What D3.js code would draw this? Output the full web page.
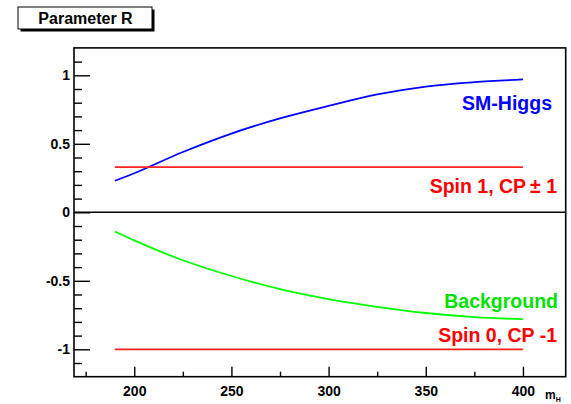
<!DOCTYPE html>
<html>
<head>
<meta charset="utf-8">
<script src="https://cdn.jsdelivr.net/npm/d3@7"></script>
<style>
  html, body { margin: 0; padding: 0; background: #fff; }
  svg { display: block; }
  text { font-family: "Liberation Sans", Arial, Helvetica, sans-serif; }
</style>
</head>
<body>
<svg id="chart" width="571" height="404"></svg>
<script>
// Higgs mass points (GeV) where the parameter R is sampled
const massPoints = [190, 200, 225, 250, 275, 300, 325, 350, 375, 400];
// Parameter R for the SM Higgs hypothesis
const smHiggs = [0.23, 0.285, 0.44, 0.575, 0.685, 0.776, 0.86, 0.918, 0.95, 0.97];
// Parameter R for the ZZ continuum background
const background = [-0.14, -0.205, -0.35, -0.465, -0.56, -0.633, -0.69, -0.735, -0.765, -0.78];
// Mass-independent predictions for the exotic spin hypotheses
const flatRange = [190, 400];
const spin1Cp = [0.33, 0.33];
const spin0CpMinus = [-1, -1];

const xMajorTicks = [200, 250, 300, 350, 400];
const xMinorTicks = [175, 225, 275, 325, 375];
const yMajorTicks = [-1, -0.5, 0, 0.5, 1];
const yMinorTicks = [-1.1, -0.9, -0.8, -0.7, -0.6, -0.4, -0.3, -0.2, -0.1,
                     0.1, 0.2, 0.3, 0.4, 0.6, 0.7, 0.8, 0.9, 1.1];
const yTickLabels = ["-1", "-0.5", "0", "0.5", "1"];

const svg = d3.select("#chart");
const frame = { left: 74, right: 565.7, top: 47.9, bottom: 376.7 };

const x = d3.scaleLinear().domain([169, 422]).range([frame.left, frame.right]);
const y = d3.scaleLinear().domain([-1.2, 1.2]).range([frame.bottom, frame.top]);

// Title box with drop shadow
svg.append("rect").attr("x", 20.5).attr("y", 9.5).attr("width", 134).attr("height", 22).attr("fill", "#000");
svg.append("rect").attr("x", 18).attr("y", 7).attr("width", 134).attr("height", 22)
  .attr("fill", "#fff").attr("stroke", "#000").attr("stroke-width", 1);
svg.append("text").attr("x", 85.5).attr("y", 24).attr("text-anchor", "middle")
  .attr("font-size", 16).attr("font-weight", "bold").text("Parameter R");

// Axes: ticks point into the frame
const axisFont = g => g.selectAll("text").attr("font-size", 14).attr("font-weight", "bold")
  .attr("fill", "#000").style("font-family", '"Liberation Sans", Arial, sans-serif');

const yAxis = svg.append("g").attr("transform", `translate(${frame.left},0)`)
  .call(d3.axisLeft(y).tickValues(yMajorTicks).tickSize(-16).tickSizeOuter(0).tickPadding(4)
    .tickFormat((d, i) => yTickLabels[i]));
yAxis.select(".domain").remove();
yAxis.selectAll("line").attr("stroke", "#000").attr("stroke-width", 1.4);
axisFont(yAxis);

const yMinor = svg.append("g").attr("transform", `translate(${frame.left},0)`)
  .call(d3.axisLeft(y).tickValues(yMinorTicks).tickSize(-8).tickSizeOuter(0).tickFormat(""));
yMinor.select(".domain").remove();
yMinor.selectAll("line").attr("stroke", "#000").attr("stroke-width", 1.4);

const xAxis = svg.append("g").attr("transform", `translate(0,${frame.bottom})`)
  .call(d3.axisBottom(x).tickValues(xMajorTicks).tickSize(-10).tickSizeOuter(0).tickPadding(9));
xAxis.select(".domain").remove();
xAxis.selectAll("line").attr("stroke", "#000").attr("stroke-width", 1.4);
axisFont(xAxis);

const xMinor = svg.append("g").attr("transform", `translate(0,${frame.bottom})`)
  .call(d3.axisBottom(x).tickValues(xMinorTicks).tickSize(-5).tickSizeOuter(0).tickFormat(""));
xMinor.select(".domain").remove();
xMinor.selectAll("line").attr("stroke", "#000").attr("stroke-width", 1.4);

// Frame and zero line
svg.append("rect").attr("x", frame.left).attr("y", frame.top)
  .attr("width", frame.right - frame.left).attr("height", frame.bottom - frame.top)
  .attr("fill", "none").attr("stroke", "#000").attr("stroke-width", 1.6);
svg.append("line").attr("x1", frame.left).attr("x2", frame.right)
  .attr("y1", y(0)).attr("y2", y(0)).attr("stroke", "#000").attr("stroke-width", 1.6);

// X axis title
const xt = svg.append("text").attr("x", 545).attr("y", 399).attr("font-size", 12).attr("font-weight", "bold");
xt.append("tspan").text("m");
xt.append("tspan").attr("font-size", 7).attr("dy", 2.5).text("H");

// Curves
const curve = d3.line().x(d => x(d[0])).y(d => y(d[1])).curve(d3.curveMonotoneX);
const series = [
  { xs: massPoints, ys: smHiggs, color: "#0000ff" },
  { xs: massPoints, ys: background, color: "#00ff00" },
  { xs: flatRange, ys: spin1Cp, color: "#ff2020" },
  { xs: flatRange, ys: spin0CpMinus, color: "#ff2020" }
];
series.forEach(s => {
  svg.append("path").datum(d3.zip(s.xs, s.ys)).attr("d", curve)
    .attr("fill", "none").attr("stroke", s.color).attr("stroke-width", 1.8);
});

// Series labels
const labels = [
  { text: "SM-Higgs", x: 552, y: 110, color: "#0000ff" },
  { text: "Spin 1, CP\u2009\u00b1 1", x: 557, y: 193, color: "#ff0000" },
  { text: "Background", x: 558, y: 307.5, color: "#00e000" },
  { text: "Spin 0, CP -1", x: 557, y: 341.5, color: "#ff0000" }
];
labels.forEach(l => {
  svg.append("text").attr("x", l.x).attr("y", l.y).attr("text-anchor", "end")
    .attr("font-size", 19.5).attr("font-weight", "bold").attr("fill", l.color).text(l.text);
});
</script>
</body>
</html>
